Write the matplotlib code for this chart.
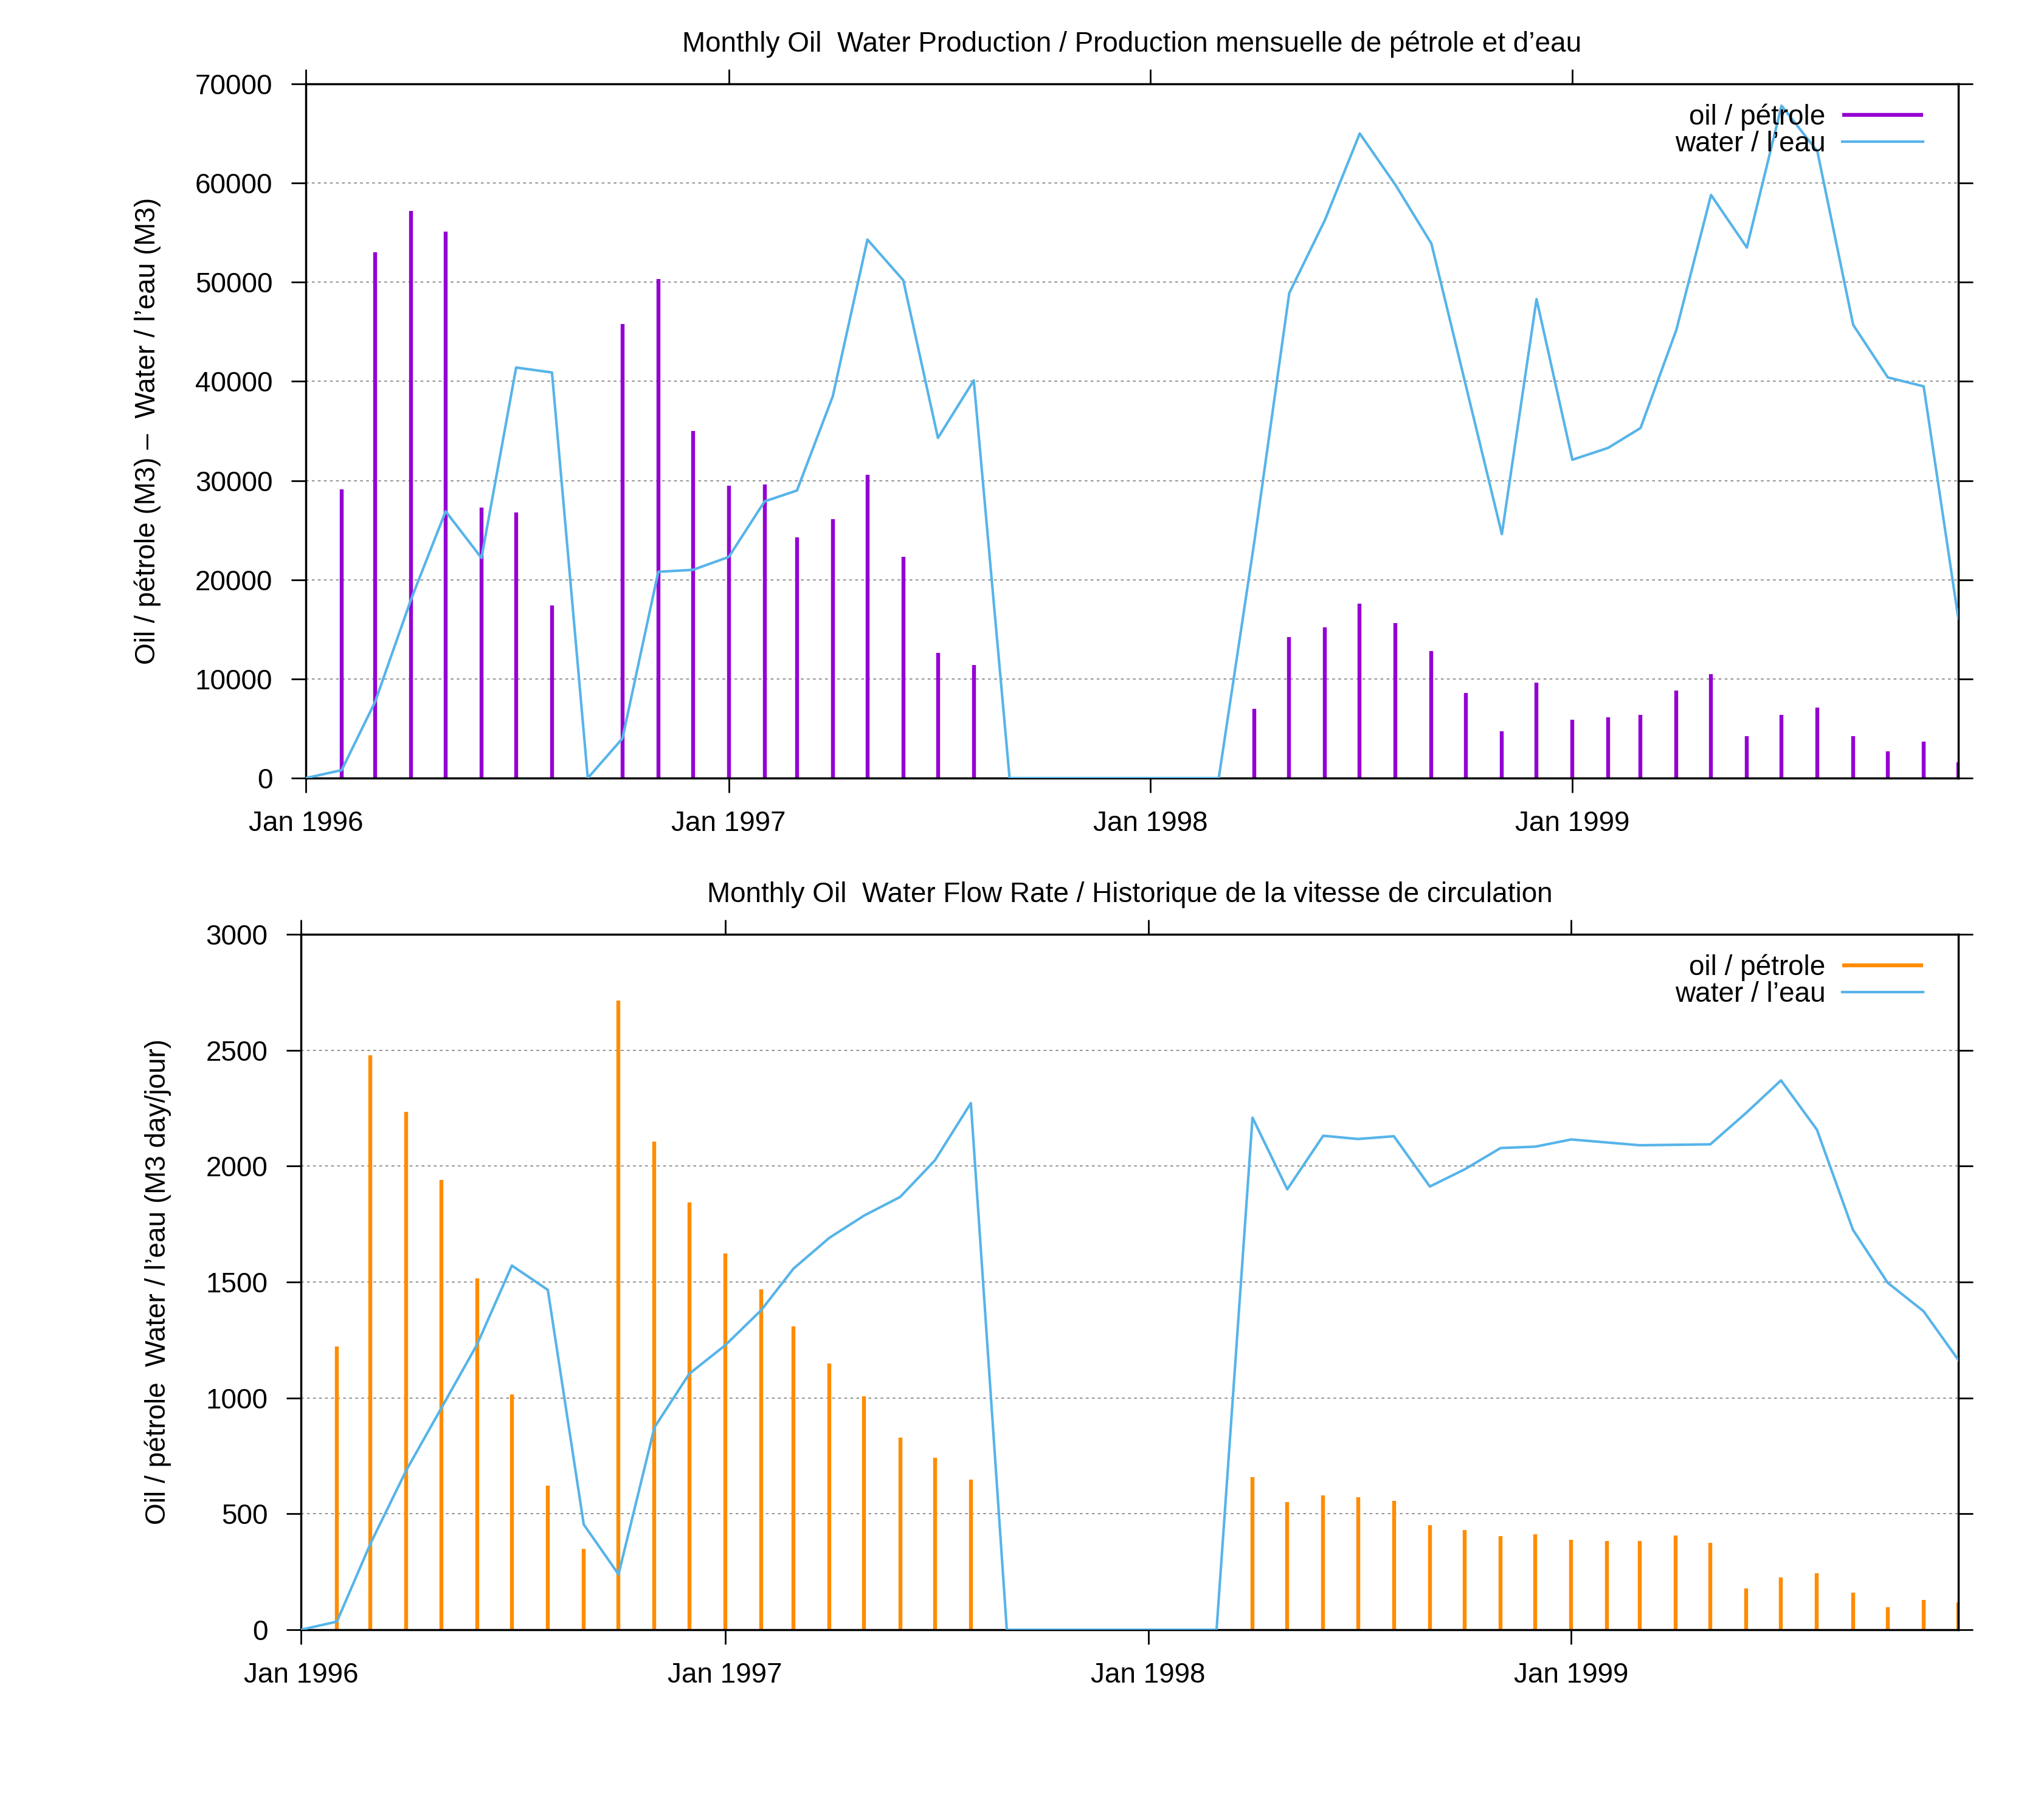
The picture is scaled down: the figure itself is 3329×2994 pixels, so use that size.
import numpy as np
import pandas as pd
import matplotlib
matplotlib.use("Agg")
import matplotlib.pyplot as plt

plt.rcParams['font.family'] = ['Liberation Sans', 'DejaVu Sans']

months = pd.date_range("1996-01-01", "1999-12-01", freq="MS")

oil_volume = [0, 29100, 53000, 57200, 55100, 27300, 26800, 17400, 0, 45800, 50300, 35000,
              29500, 29600, 24300, 26100, 30600, 22300, 12600, 11400, 0, 0, 0, 0,
              0, 0, 0, 7000, 14200, 15200, 17600, 15600, 12800, 8600, 4700, 9600,
              5900, 6100, 6400, 8800, 10500, 4200, 6400, 7100, 4200, 2700, 3700, 1600]
water_volume = [0, 800, 7700, 18000, 26900, 22200, 41400, 40900, 0, 4000, 20800, 21000,
                22300, 27900, 29000, 38500, 54300, 50200, 34300, 40100, 0, 0, 0, 0,
                0, 0, 0, 24000, 48900, 56300, 65000, 59800, 53900, 39500, 24600, 48300,
                32100, 33300, 35300, 45200, 58800, 53500, 67800, 63200, 45700, 40400, 39500, 16100]
oil_rate = [0, 1223, 2477, 2235, 1941, 1515, 1016, 622, 350, 2714, 2106, 1843,
            1622, 1468, 1309, 1149, 1008, 828, 742, 648, 0, 0, 0, 0,
            0, 0, 0, 658, 552, 579, 571, 556, 452, 429, 405, 413,
            387, 382, 384, 407, 374, 178, 225, 243, 160, 96, 129, 118]
water_rate = [0, 35, 372, 689, 955, 1231, 1571, 1466, 454, 239, 873, 1104,
              1227, 1378, 1558, 1691, 1787, 1867, 2025, 2272, 0, 0, 0, 0,
              0, 0, 0, 2209, 1900, 2131, 2117, 2129, 1912, 1986, 2078, 2084,
              2115, 2102, 2090, 2092, 2094, 2230, 2370, 2157, 1726, 1497, 1374, 1164]

xtick_dates = pd.to_datetime(["1996-01-01", "1997-01-01", "1998-01-01", "1999-01-01"])
xtick_labels = ["Jan 1996", "Jan 1997", "Jan 1998", "Jan 1999"]

titles = ["Monthly Oil  Water Production / Production mensuelle de pétrole et d\u2019eau",
          "Monthly Oil  Water Flow Rate / Historique de la vitesse de circulation"]
ylabels = ["Oil / pétrole (M3) \u2013  Water / l\u2019eau (M3)",
           "Oil / pétrole  Water / l\u2019eau (M3 day/jour)"]
legend_labels = [["oil / pétrole", "water / l\u2019eau"], ["oil / pétrole", "water / l\u2019eau"]]

W, H = 3329, 2994
fig = plt.figure(figsize=(W / 100, H / 100), dpi=100)

oil_colors = ["#9400d3", "#ff8c00"]
water_color = "#56b4e9"
FS = 33

def setup(ax, oil, water, oil_color, ymax, ystep, title, ylabel, labels, ylab_x):
    oil_arr = np.array(oil, dtype=float)
    mask = oil_arr > 0
    ax.vlines(months[mask], 0, oil_arr[mask], color=oil_color, lw=4.6, label=labels[0], zorder=2)
    ax.plot(months, water, color=water_color, lw=3.0, label=labels[1], zorder=3)
    ax.set_xlim(months[0], months[-1])
    ax.set_ylim(0, ymax)
    ax.set_yticks(np.arange(0, ymax + 1, ystep))
    ax.set_xticks(xtick_dates)
    ax.set_xticklabels(xtick_labels)
    ax.tick_params(axis='both', which='major', direction='out', length=17.3, width=2.0,
                   labelsize=FS, pad=22, top=True, right=True)
    ax.tick_params(axis='x', pad=21)
    for s in ax.spines.values():
        s.set_linewidth(2.5)
    ax.grid(axis='y', color='#888888', linestyle=(0, (2.5, 3)), linewidth=1.3)
    ax.set_axisbelow(True)
    ax.set_title(title, fontsize=FS, pad=38)
    ax.set_ylabel(ylabel, fontsize=FS)
    ax.yaxis.set_label_coords(ylab_x, 0.5)
    ax.legend(loc='upper right', frameon=False, markerfirst=False, fontsize=FS,
              handlelength=2.9, handletextpad=0.6, labelspacing=0.0,
              borderaxespad=0.3, bbox_to_anchor=(0.9905, 1.0))

ax1 = fig.add_axes([503 / W, 1 - 1280 / H, (3221 - 503) / W, (1280 - 138) / H])
setup(ax1, oil_volume, water_volume, oil_colors[0], 70000, 10000, titles[0], ylabels[0],
      legend_labels[0], -0.0874)

ax2 = fig.add_axes([495 / W, 1 - 2681 / H, (3221 - 495) / W, (2681 - 1537) / H])
setup(ax2, oil_rate, water_rate, oil_colors[1], 3000, 500, titles[1], ylabels[1],
      legend_labels[1], -0.078)

fig.savefig("out.png", dpi=100, facecolor="white")
